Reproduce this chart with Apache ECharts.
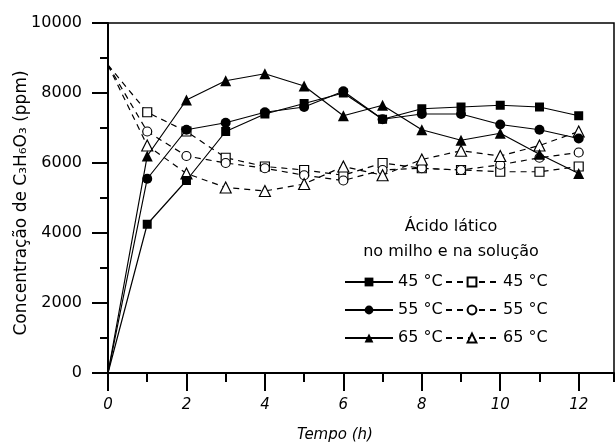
<!DOCTYPE html>
<html>
<head>
<meta charset="utf-8">
<script src="https://cdn.jsdelivr.net/npm/echarts@6/dist/echarts.min.js"></script>
<style>
  html, body { margin: 0; padding: 0; background: #fff; }
  #chart { width: 616px; height: 443px; }
</style>
</head>
<body>
<div id="chart"></div>
<script>
// tempo (h)
var hours = [0, 1, 2, 3, 4, 5, 6, 7, 8, 9, 10, 11, 12];
// no milho (cheios)
var milho45 = [0, 4250, 5500, 6900, 7400, 7700, 8000, 7250, 7550, 7600, 7650, 7600, 7350];
var milho55 = [0, 5550, 6950, 7150, 7450, 7600, 8050, 7250, 7400, 7400, 7100, 6950, 6700];
var milho65 = [0, 6200, 7800, 8350, 8550, 8200, 7350, 7650, 6950, 6650, 6850, 6250, 5700];
// na solucao (vazios)
var solucao45 = [8800, 7450, 6900, 6150, 5900, 5800, 5650, 6000, 5850, 5800, 5750, 5750, 5900];
var solucao55 = [8800, 6900, 6200, 6000, 5850, 5650, 5500, 5800, 5850, 5800, 5950, 6150, 6300];
var solucao65 = [8800, 6500, 5700, 5300, 5200, 5400, 5900, 5650, 6100, 6350, 6200, 6500, 6900];

var xMajorTicks = [0, 2, 4, 6, 8, 10, 12];
var xMinorTicks = [1, 3, 5, 7, 9, 11, 12.9];
var filledNames = ['45 °C', '55 °C', '65 °C'];
var openNames = ['45 °C ', '55 °C ', '65 °C '];

var font = 'DejaVu Sans';

// o ponto em t=0 nao tem marcador
function toData (values) {
  return values.map(function (v, i) {
    if (i === 0) return {value: [hours[i], v], symbol: 'none'};
    return [hours[i], v];
  });
}

function filledSeries (name, values, symbol, size) {
  return {
    name: name,
    type: 'line',
    data: toData(values),
    symbol: symbol,
    symbolSize: size,
    itemStyle: {color: '#000'},
    lineStyle: {color: '#000', width: 1.2},
    z: 3
  };
}

function openSeries (name, values, symbol, size) {
  return {
    name: name,
    type: 'line',
    data: toData(values),
    symbol: symbol,
    symbolSize: size,
    itemStyle: {color: '#fff', borderColor: '#000', borderWidth: 1.2},
    lineStyle: {color: '#000', width: 1.2, type: [6, 5]},
    z: 2
  };
}

var chart = echarts.init(document.getElementById('chart'));

var option = {
  animation: false,
  textStyle: {fontFamily: font, color: '#000'},
  grid: {
    left: 108, top: 23, width: 506, height: 350,
    outerBoundsMode: 'none', containLabel: false,
    show: true, borderColor: '#000', borderWidth: 1.5
  },
  xAxis: [
    {
      type: 'value', min: 0, max: 12.9, position: 'bottom',
      name: 'Tempo (h)', nameLocation: 'middle', nameGap: 55,
      nameTextStyle: {fontSize: 15, fontStyle: 'italic', color: '#000', padding: [0, 52, 0, 0]},
      axisLine: {lineStyle: {color: '#000', width: 2}},
      axisTick: {length: 18, lineStyle: {width: 2, color: '#000'}, customValues: xMajorTicks},
      axisLabel: {customValues: xMajorTicks, margin: 25, fontSize: 15, fontStyle: 'italic', color: '#000'},
      splitLine: {show: false}
    },
    {
      type: 'value', min: 0, max: 12.9, position: 'bottom',
      axisLine: {show: false},
      axisTick: {length: 9, lineStyle: {width: 2, color: '#000'}, customValues: xMinorTicks},
      axisLabel: {show: false},
      splitLine: {show: false}
    }
  ],
  yAxis: {
    type: 'value', min: 0, max: 10000, interval: 2000,
    name: 'Concentração de C₃H₆O₃ (ppm)', nameLocation: 'middle', nameGap: 78,
    nameMoveOverlap: false,
    nameTextStyle: {fontSize: 17, color: '#000', padding: [0, 10, 0, 0]},
    axisLine: {show: true, lineStyle: {color: '#000', width: 2}},
    axisTick: {length: 16, lineStyle: {width: 2, color: '#000'}},
    minorTick: {show: true, splitNumber: 2, length: 8, lineStyle: {width: 2, color: '#000'}},
    axisLabel: {margin: 26, fontSize: 16, color: '#000', formatter: function (v) { return String(v); }},
    splitLine: {show: false}
  },
  legend: [
    {
      data: filledNames, orient: 'vertical', left: 339, top: 269,
      itemWidth: 48, itemHeight: 11, itemGap: 12, selectedMode: false,
      textStyle: {fontSize: 16, color: '#000', fontFamily: font}
    },
    {
      data: openNames, orient: 'vertical', left: 440, top: 269,
      itemWidth: 52, itemHeight: 11, itemGap: 12, selectedMode: false,
      formatter: function (name) { return name.trim(); },
      textStyle: {fontSize: 16, color: '#000', fontFamily: font}
    }
  ],
  graphic: [
    {type: 'text', x: 451, y: 227, style: {text: 'Ácido lático', fontSize: 16, fontFamily: font, fill: '#000', align: 'center', verticalAlign: 'middle'}},
    {type: 'text', x: 451, y: 252, style: {text: 'no milho e na solução', fontSize: 16, fontFamily: font, fill: '#000', align: 'center', verticalAlign: 'middle'}}
  ],
  series: [
    filledSeries(filledNames[0], milho45, 'rect', 9),
    filledSeries(filledNames[1], milho55, 'circle', 10),
    filledSeries(filledNames[2], milho65, 'triangle', 11),
    openSeries(openNames[0], solucao45, 'rect', 9),
    openSeries(openNames[1], solucao55, 'circle', 9),
    openSeries(openNames[2], solucao65, 'triangle', 11)
  ]
};

chart.setOption(option);
</script>
</body>
</html>
